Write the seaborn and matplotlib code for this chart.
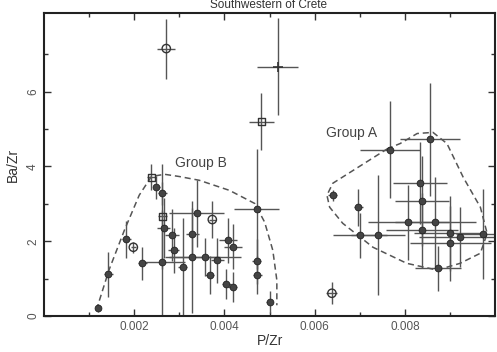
import numpy as np
import pandas as pd
import matplotlib
matplotlib.use('Agg')
import matplotlib.pyplot as plt
import seaborn as sns

# data
p_zr = [0.00120, 0.00142, 0.00182, 0.00198, 0.00218, 0.00238, 0.00249, 0.00262,
        0.00262, 0.00265, 0.00284, 0.00287, 0.00262, 0.00307, 0.00329, 0.00338,
        0.00329, 0.00367, 0.00373, 0.00384, 0.00404, 0.00418, 0.00407, 0.00418,
        0.00356, 0.00471, 0.00471, 0.00473, 0.00500,
        0.00271, 0.00518, 0.00482, 0.00638,
        0.00767, 0.00856, 0.00640, 0.00696, 0.00700, 0.00740, 0.00833, 0.00837,
        0.00807, 0.00867, 0.00837, 0.00900, 0.00922, 0.00900, 0.00873, 0.00973]
ba_zr = [0.21, 1.12, 2.05, 1.84, 1.41, 3.71, 3.44, 3.28,
         2.67, 2.35, 2.16, 1.76, 1.44, 1.31, 1.57, 2.75,
         2.20, 1.10, 2.58, 1.49, 0.87, 0.78, 2.03, 1.85,
         1.58, 2.87, 1.47, 1.10, 0.37,
         7.15, 6.67, 5.20, 0.61,
         4.45, 4.72, 3.23, 2.91, 2.16, 2.16, 3.56, 3.07,
         2.51, 2.51, 2.29, 2.21, 2.11, 1.95, 1.28, 2.20]
p_err = [0.00005, 0.00010, 0.00010, 0.00005, 0.00010, 0.00010, 0.00008, 0.00010,
         0.00010, 0.00015, 0.00015, 0.00012, 0.00050, 0.00010, 0.00060, 0.00060,
         0.00015, 0.00010, 0.00008, 0.00015, 0.00010, 0.00010, 0.00020, 0.00020,
         0.00080, 0.00050, 0.00010, 0.00010, 0.00008,
         0.00020, 0.00045, 0.00027, 0.00012,
         0.00066, 0.00066, 0.00010, 0.00010, 0.00060, 0.00060, 0.00060, 0.00060,
         0.00090, 0.00090, 0.00080, 0.00080, 0.00090, 0.00090, 0.00050, 0.00060]
ba_err = [0.10, 0.60, 0.50, 0.15, 0.45, 0.35, 0.30, 0.30,
          1.40, 0.80, 0.70, 0.60, 1.40, 1.30, 1.50, 0.90,
          0.70, 0.50, 0.50, 0.60, 0.40, 0.40, 0.60, 0.60,
          0.50, 1.60, 0.60, 0.50, 0.30,
          0.80, 1.30, 0.75, 0.30,
          1.30, 1.50, 0.15, 0.50, 0.60, 1.60, 1.10, 1.20,
          1.00, 1.20, 1.00, 1.00, 0.80, 1.00, 0.60, 1.20]
symbol = (['dot'] * 3 + ['circle'] + ['dot', 'square', 'dot', 'dot', 'square'] + ['dot'] * 9
          + ['circle'] + ['dot'] * 10
          + ['circle', 'cross', 'square', 'circle']
          + ['dot'] * 16)

# hand-traced group envelopes
group_b_x = [0.00116, 0.00144, 0.00178, 0.00211, 0.00238, 0.00267, 0.00300, 0.00344,
             0.00411, 0.00467, 0.00489, 0.00507, 0.00516, 0.00516]
group_b_y = [0.16, 1.23, 2.29, 3.23, 3.73, 3.79, 3.73, 3.63, 3.36, 3.01, 2.51, 1.76, 0.96, 0.29]
group_a_x = [0.00762, 0.00640, 0.00627, 0.00633, 0.00662, 0.00729, 0.00804, 0.00871,
             0.00922, 0.00967, 0.00982, 0.00967, 0.00929, 0.00893, 0.00862, 0.00827,
             0.00789, 0.00762]
group_a_y = [4.48, 3.55, 3.23, 2.91, 2.48, 1.84, 1.41, 1.23, 1.41, 1.68, 2.21, 2.91,
             3.71, 4.61, 4.91, 4.88, 4.61, 4.48]

df = pd.DataFrame({'p_zr': p_zr, 'ba_zr': ba_zr, 'p_err': p_err,
                   'ba_err': ba_err, 'symbol': symbol})

sns.set_theme(style='ticks')
plt.rcParams['font.family'] = ['Liberation Sans', 'DejaVu Sans']

fig = plt.figure(figsize=(4.97, 3.52), dpi=100)
ax = fig.add_axes([0.0885, 0.102, 0.908, 0.861])

ax.errorbar(df['p_zr'], df['ba_zr'], xerr=df['p_err'], yerr=df['ba_err'],
            fmt='none', ecolor='#555555', elinewidth=1.0, capsize=0, zorder=2)

ink = '#333333'
sns.scatterplot(data=df[df['symbol'] == 'dot'], x='p_zr', y='ba_zr', ax=ax,
                marker='o', s=24, color='#444444', edgecolor='#222222', linewidth=0.6, zorder=3)
sns.scatterplot(data=df[df['symbol'] == 'circle'], x='p_zr', y='ba_zr', ax=ax,
                marker='o', s=36, facecolor='none', edgecolor=ink, linewidth=1.0, zorder=3)
sns.scatterplot(data=df[df['symbol'] == 'square'], x='p_zr', y='ba_zr', ax=ax,
                marker='s', s=28, facecolor='none', edgecolor=ink, linewidth=1.0, zorder=3)
sns.scatterplot(data=df[df['symbol'] == 'cross'], x='p_zr', y='ba_zr', ax=ax,
                marker='+', s=60, color=ink, linewidth=1.2, zorder=3)

ax.plot(group_b_x, group_b_y, ls=(0, (4, 2.5)), color='#555555', lw=1.1, zorder=1)
ax.plot(group_a_x, group_a_y, ls=(0, (4, 2.5)), color='#555555', lw=1.1, zorder=1)
ax.text(0.00348, 4.1, 'Group B', fontsize=10, color='#444444', ha='center', va='center')
ax.text(0.00682, 4.9, 'Group A', fontsize=10, color='#444444', ha='center', va='center')

ax.set_xlim(0, 0.01)
ax.set_ylim(0, 8.1)
ax.set_xticks([0.002, 0.004, 0.006, 0.008])
ax.set_xticklabels(['0.002', '0.004', '0.006', '0.008'])
ax.set_xticks(np.arange(0.001, 0.01, 0.001), minor=True)
ax.set_yticks([0, 2, 4, 6])
ax.set_yticks([1, 3, 5, 7], minor=True)
ax.tick_params(which='both', direction='in', top=True, right=True, colors='#333333',
               labelcolor='#555555', labelsize=8.5, width=1.0)
ax.tick_params(which='major', length=5)
ax.tick_params(which='minor', length=3)
for lab in ax.get_yticklabels():
    lab.set_rotation(90)
    lab.set_va('center')
for sp in ax.spines.values():
    sp.set_linewidth(1.5)
    sp.set_color('#222222')

ax.set_xlabel('P/Zr', fontsize=10, color='#333333', labelpad=1)
ax.set_ylabel('Ba/Zr', fontsize=10, color='#333333', labelpad=5)
fig.text(0.54, 0.968, 'Southwestern of Crete', fontsize=8.5, color='#333333',
         ha='center', va='bottom')

fig.savefig('out.png', dpi=100)
